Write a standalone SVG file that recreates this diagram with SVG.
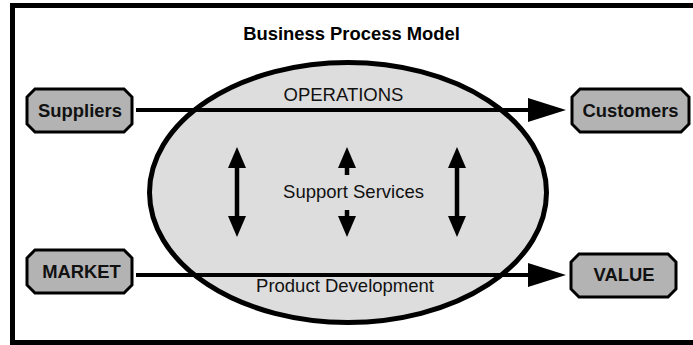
<svg xmlns="http://www.w3.org/2000/svg" width="693" height="345" viewBox="0 0 693 345">
  <style>
    .frame { fill: #ffffff; stroke: #000000; stroke-width: 5; }
    .oval { fill: #dddddd; stroke: #000000; stroke-width: 5; }
    .box { fill: #b3b3b3; stroke: #000000; stroke-width: 3; stroke-linejoin: miter; }
    .boxlabel { font-family: "Liberation Sans", Arial, sans-serif; font-weight: bold; font-size: 18.4px; fill: #111111; text-anchor: middle; }
    .title { font-family: "Liberation Sans", Arial, sans-serif; font-weight: bold; font-size: 18.4px; fill: #000000; text-anchor: middle; }
    .label { font-family: "Liberation Sans", Arial, sans-serif; font-size: 18.5px; fill: #111111; text-anchor: middle; }
    .flow { stroke: #000000; stroke-width: 4; fill: none; marker-end: url(#bigHead); }
    .vert { stroke: #000000; stroke-width: 4.5; fill: none; }
  </style>
  <defs>
    <marker id="bigHead" markerUnits="userSpaceOnUse" markerWidth="38" markerHeight="24" refX="22" refY="12" orient="auto">
      <path d="M0,0 L38,12 L0,24 Z" fill="#000000"/>
    </marker>
    <marker id="smallHead" markerUnits="userSpaceOnUse" markerWidth="21" markerHeight="18" refX="8" refY="9" orient="auto-start-reverse">
      <path d="M0,0 L21,9 L0,18 Z" fill="#000000"/>
    </marker>
  </defs>

  <rect class="frame" x="12.5" y="5.5" width="700" height="337"/>

  <g id="title">
    <text class="title" x="351.5" y="40">Business Process Model</text>
  </g>

  <g id="business">
    <ellipse class="oval" cx="348" cy="192.5" rx="198.5" ry="130"/>
    <text class="label" x="343.5" y="101">OPERATIONS</text>
    <text class="label" x="353.5" y="198">Support Services</text>
    <text class="label" x="345" y="292">Product Development</text>
  </g>

  <g id="connectors">
    <line class="flow" x1="136" y1="110" x2="550" y2="110"/>
    <line class="flow" x1="136" y1="275" x2="550" y2="275"/>
    <line class="vert" x1="237" y1="160" x2="237" y2="224" marker-start="url(#smallHead)" marker-end="url(#smallHead)"/>
    <line class="vert" x1="347" y1="175" x2="347" y2="160" stroke-width="5" marker-end="url(#smallHead)"/>
    <line class="vert" x1="347" y1="210" x2="347" y2="224" stroke-width="5" marker-end="url(#smallHead)"/>
    <line class="vert" x1="457" y1="160" x2="457" y2="224" marker-start="url(#smallHead)" marker-end="url(#smallHead)"/>
  </g>

  <g id="suppliers">
    <polygon class="box" points="35,89 124,89 132,97 132,124 124,132 35,132 27,124 27,97"/>
    <text class="boxlabel" x="80" y="117">Suppliers</text>
  </g>

  <g id="customers">
    <polygon class="box" points="580,89 681,89 689,97 689,124 681,132 580,132 572,124 572,97"/>
    <text class="boxlabel" x="630.5" y="117">Customers</text>
  </g>

  <g id="market">
    <polygon class="box" points="35,250 124,250 132,258 132,285 124,293 35,293 27,285 27,258"/>
    <text class="boxlabel" x="81.5" y="278">MARKET</text>
  </g>

  <g id="value">
    <polygon class="box" points="579,254 668,254 676,262 676,289 668,297 579,297 571,289 571,262"/>
    <text class="boxlabel" x="624" y="281">VALUE</text>
  </g>
</svg>
